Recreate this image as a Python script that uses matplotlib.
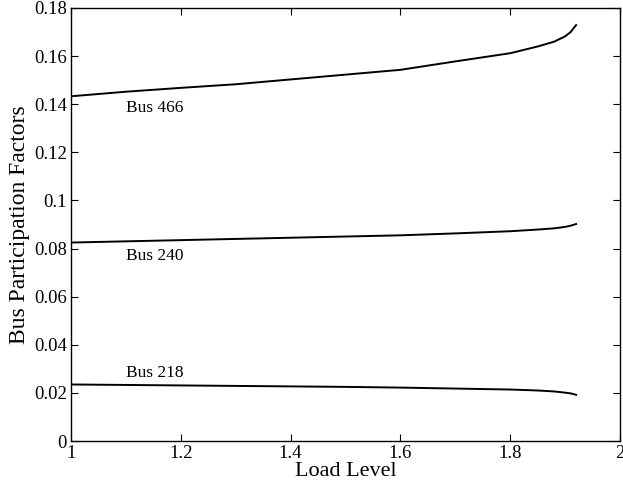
import matplotlib

matplotlib.use('Agg')
import matplotlib.pyplot as plt

plt.rcParams['font.family'] = ['Liberation Serif', 'DejaVu Serif']
plt.rcParams['mathtext.fontset'] = 'stix'

# load level samples
load_level = [1.0, 1.1, 1.2, 1.3, 1.4, 1.5, 1.6, 1.7, 1.8, 1.85, 1.88, 1.90, 1.91, 1.92]

# participation factors
bus_466 = [0.1433, 0.1452, 0.1468, 0.1483, 0.1503, 0.1523, 0.1543, 0.1578, 0.1612,
           0.1640, 0.1660, 0.1682, 0.1700, 0.1729]
bus_240 = [0.0825, 0.0830, 0.0835, 0.0840, 0.0845, 0.0850, 0.0855, 0.0863, 0.0872,
           0.0879, 0.0884, 0.0890, 0.0895, 0.0902]
bus_218 = [0.0235, 0.0233, 0.0231, 0.0229, 0.0227, 0.0225, 0.0222, 0.0218, 0.0214,
           0.0210, 0.0206, 0.0201, 0.0198, 0.0192]

labels = ['Bus 466', 'Bus 240', 'Bus 218']
label_pos = [(1.1, 0.1384), (1.1, 0.0769), (1.1, 0.0283)]

fig = plt.figure(figsize=(6.23, 4.91), dpi=100)
ax = fig.add_axes([71 / 623, 50 / 491, 549 / 623, 433 / 491])

for series in [bus_466, bus_240, bus_218]:
    ax.plot(load_level, series, color='black', linewidth=1.4)

for text, (x, y) in zip(labels, label_pos):
    ax.text(x, y, text, fontsize=12.5, ha='left', va='center')

ax.set_xlim(1, 2)
ax.set_ylim(0, 0.18)
ax.set_xticks([1, 1.2, 1.4, 1.6, 1.8, 2])
ax.set_xticklabels(['1', '1.2', '1.4', '1.6', '1.8', '2'])
ax.set_yticks([0, 0.02, 0.04, 0.06, 0.08, 0.1, 0.12, 0.14, 0.16, 0.18])
ax.set_yticklabels(['0', '0.02', '0.04', '0.06', '0.08', '0.1', '0.12', '0.14', '0.16', '0.18'])
ax.tick_params(direction='in', top=True, right=True, length=5, width=0.8, labelsize=13.5)
ax.tick_params(axis='x', pad=3)
ax.tick_params(axis='y', pad=3)
for spine in ax.spines.values():
    spine.set_linewidth(1.0)

ax.set_xlabel('Load Level', fontsize=16, labelpad=0)
ax.set_ylabel('Bus Participation Factors', fontsize=17, labelpad=3)

fig.savefig('out.png', dpi=100)
